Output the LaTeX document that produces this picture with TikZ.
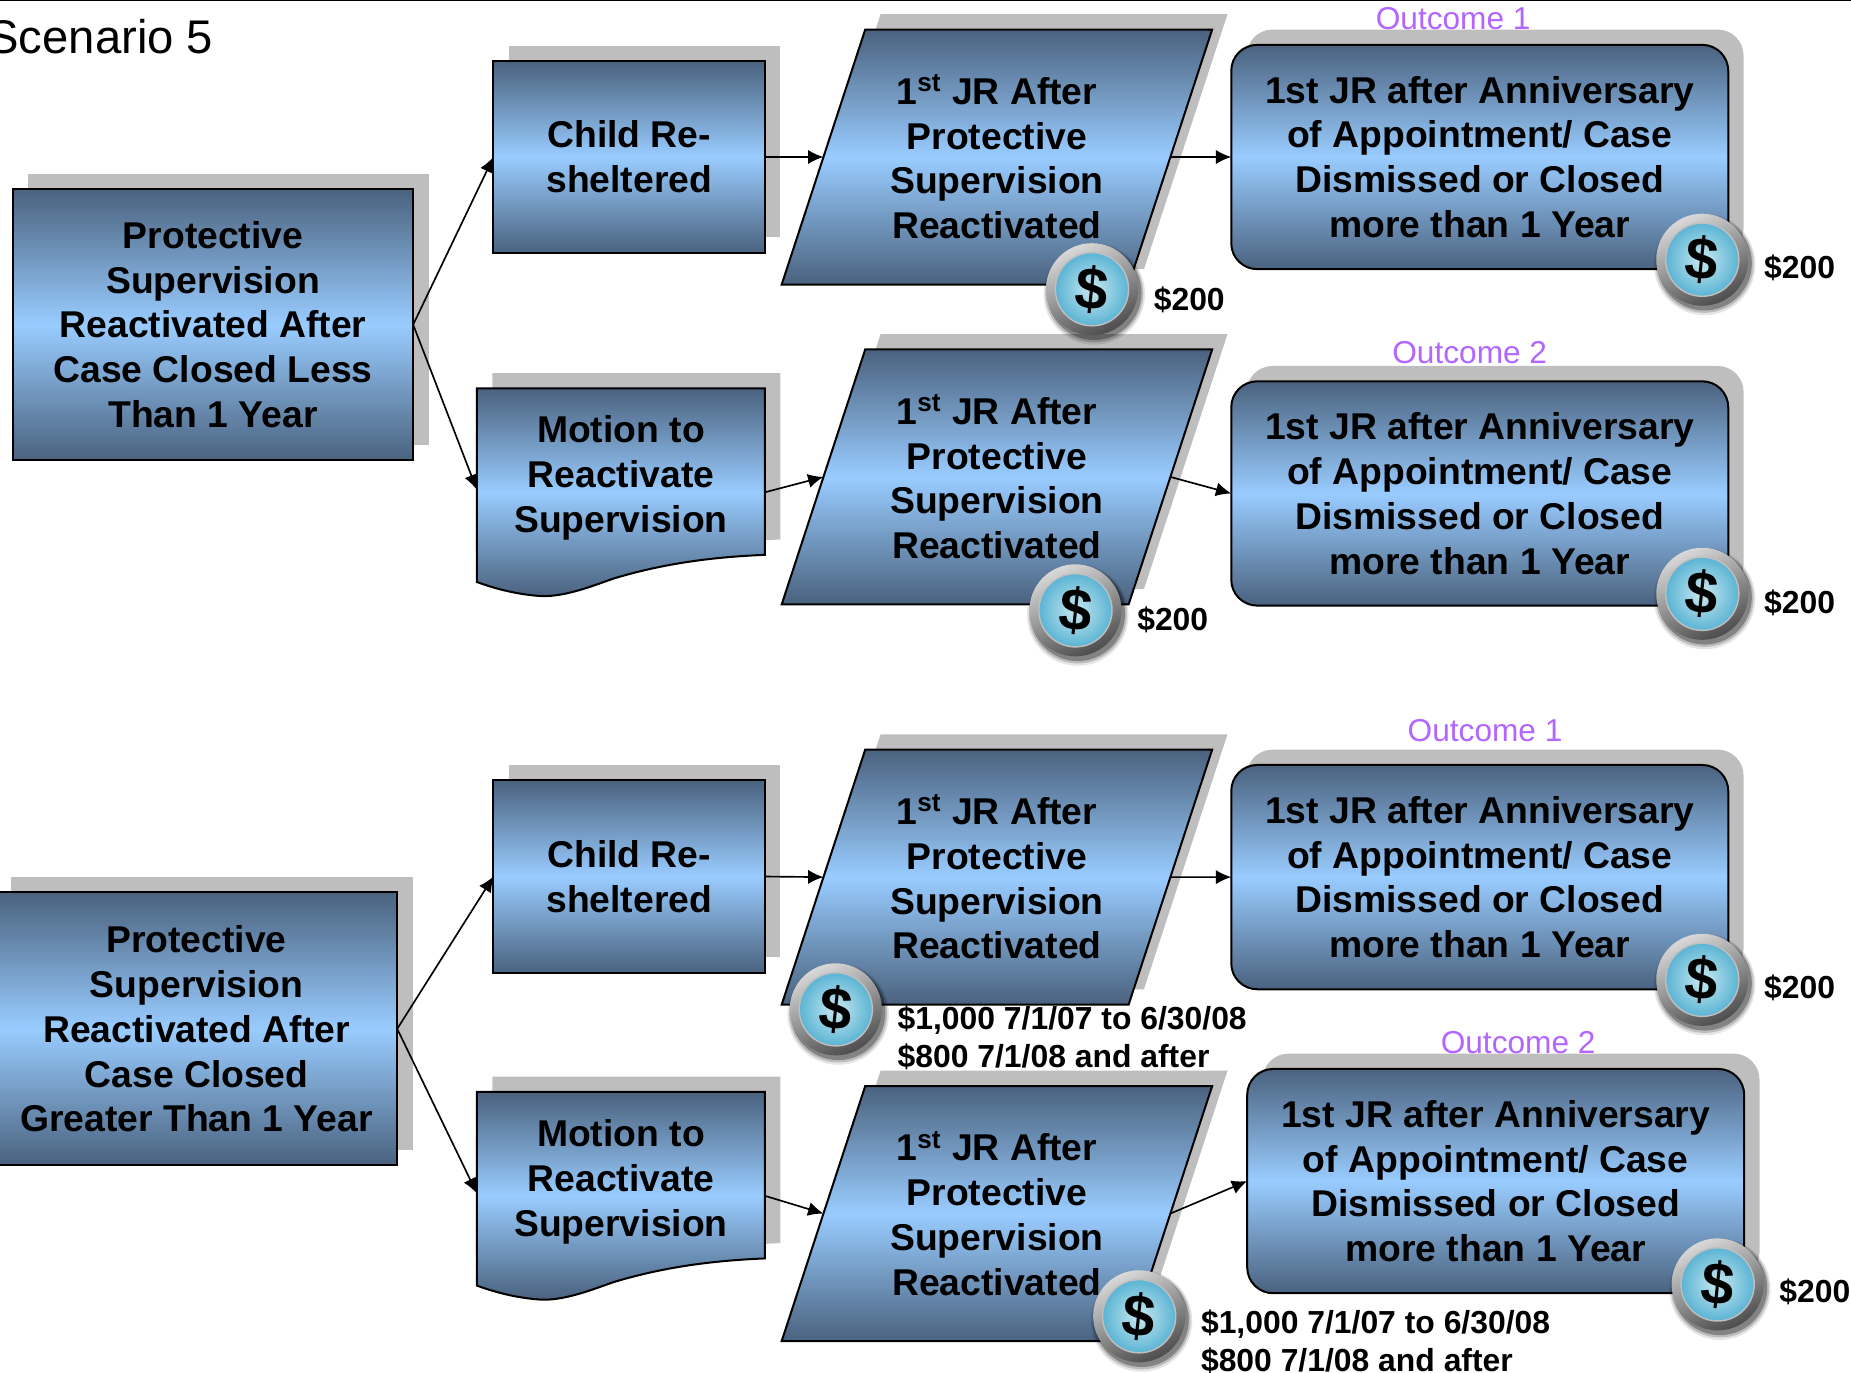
\documentclass[tikz,border=0pt]{standalone}
\usepackage{fontspec}
\setmainfont{Liberation Sans}
\usetikzlibrary{shapes.geometric}
\usetikzlibrary{shadows}
\usetikzlibrary{arrows.meta}
\definecolor{boxdark}{HTML}{4A627E}
\definecolor{boxlight}{HTML}{99CCFF}
\definecolor{boxshadow}{HTML}{BEBEBE}
\definecolor{outcome}{HTML}{B266FF}
\definecolor{coinface}{HTML}{5BB4D4}
\definecolor{coinglow}{HTML}{C9E9F0}
\tikzset{
  boxfill/.style={draw=black, line width=0.85pt, top color=boxdark, bottom color=boxdark, middle color=boxlight,
    general shadow={shadow xshift=6.5pt, shadow yshift=6.5pt, fill=boxshadow, draw=none}},
  boxtext/.style={font=\fontsize{15.8}{19}\selectfont\bfseries, align=center, inner sep=0pt, outer sep=0pt},
  boxrect/.style={boxfill, boxtext, rectangle, execute at begin node={\rule{0pt}{14pt}}},
  boxpara/.style={boxfill, boxtext, trapezium, trapezium left angle=67.6, trapezium right angle=112.4,
    trapezium stretches=true, minimum width=182.5pt, minimum height=108pt},
  boxround/.style={boxfill, boxtext, rectangle, execute at begin node={\rule{0pt}{14pt}}, rounded corners=11pt, minimum width=210.5pt, minimum height=95pt},
  plaintext/.style={font=\fontsize{15.8}{19}\selectfont\bfseries, align=center, inner sep=0pt},
  money/.style={font=\fontsize{13.5}{16}\selectfont\bfseries, align=left, anchor=west, inner sep=0pt},
  outcometext/.style={font=\fontsize{13.4}{16}\selectfont, text=outcome, inner sep=0pt},
  link/.style={->, >={Latex[length=6.5pt,width=6pt]}, line width=0.7pt},
  coin/.pic={
    \fill[black,opacity=0.10] (2,4) circle (43);
    \fill[black,opacity=0.18] (2,3.5) circle (41.5);
    \fill[black,opacity=0.30] (2,3) circle (40);
    \shade[top color=black!15, bottom color=black!70, shading angle=25] (0,0) circle (39);
    \shade[inner color=coinglow, outer color=coinface] (0,0) circle (31);
    \draw[white!75!black, line width=0.6pt] (0,0) circle (31);
    \node[font=\fontsize{25}{25}\selectfont\bfseries, inner sep=0pt, rotate=-6] (-dollar) at (0,0) {\$};
  }
}
\begin{document}
\begin{tikzpicture}[x=0.5pt, y=-0.5pt]
  \useasboundingbox (0,0) rectangle (1568,1163);

  \draw[line width=0.7pt] (0,0.5) -- (1568,0.5);
  \node[font=\fontsize{20}{24}\selectfont, anchor=west, inner sep=0pt] (title) at (-11,31) {Scenario 5};

  % Top scenario
  \node[boxrect, minimum width=169.5pt, minimum height=115pt] (protect1) at (180.5,275) {Protective\\Supervision\\Reactivated After\\Case Closed Less\\Than 1 Year};

    % Row 1
    \node[boxrect, minimum width=115pt, minimum height=81pt] (child1) at (533,133) {Child Re-\\sheltered};
    \node[boxpara] (para1) at (844.5,133) {1\textsuperscript{st} JR After\\Protective\\Supervision\\Reactivated};
    \node[boxround] (round1) at (1253.5,133) {1st JR after Anniversary\\of Appointment/ Case\\Dismissed or Closed\\more than 1 Year};
    \node[outcometext] (outcome1) at (1231,16) {Outcome 1};

    % Row 2
    \draw[boxfill] (404,329) -- (648,329) -- (648,470) coordinate (motion1b) .. controls (600,472) and (560,478) .. (520,490) .. controls (500,497) and (480,505) .. (460,505) .. controls (440,504) and (420,499) .. (404,493) -- cycle;
    \node[plaintext] (motion1) at (526,405) {Motion to\\Reactivate\\Supervision};
    \coordinate (motion1in) at (404,415);
    \coordinate (motion1out) at (648,417);
    \node[boxpara] (para2) at (844.5,404) {1\textsuperscript{st} JR After\\Protective\\Supervision\\Reactivated};
    \node[boxround] (round2) at (1253.5,418) {1st JR after Anniversary\\of Appointment/ Case\\Dismissed or Closed\\more than 1 Year};
    \node[outcometext] (outcome2) at (1245,299) {Outcome 2};

  % Bottom scenario
  \node[boxrect, minimum width=170pt, minimum height=115.5pt] (protect2) at (166.5,871.5) {Protective\\Supervision\\Reactivated After\\Case Closed\\Greater Than 1 Year};

    % Row 3
    \node[boxrect, minimum width=115pt, minimum height=81.5pt] (child2) at (533,742.5) {Child Re-\\sheltered};
    \node[boxpara] (para3) at (844.5,743) {1\textsuperscript{st} JR After\\Protective\\Supervision\\Reactivated};
    \node[boxround] (round3) at (1253.5,743) {1st JR after Anniversary\\of Appointment/ Case\\Dismissed or Closed\\more than 1 Year};
    \node[outcometext] (outcome3) at (1258,619) {Outcome 1};

    % Row 4
    \draw[boxfill] (404,925) -- (648,925) -- (648,1066) coordinate (motion2b) .. controls (600,1068) and (560,1074) .. (520,1086) .. controls (500,1093) and (480,1101) .. (460,1101) .. controls (440,1100) and (420,1095) .. (404,1089) -- cycle;
    \node[plaintext] (motion2) at (526,1001) {Motion to\\Reactivate\\Supervision};
    \coordinate (motion2in) at (404,1011);
    \coordinate (motion2out) at (648,1013);
    \node[boxpara] (para4) at (844.5,1028) {1\textsuperscript{st} JR After\\Protective\\Supervision\\Reactivated};
    \node[boxround] (round4) at (1267,1000.5) {1st JR after Anniversary\\of Appointment/ Case\\Dismissed or Closed\\more than 1 Year};
    \node[outcometext] (outcome4) at (1286,883) {Outcome 2};

  % Connectors
  \draw[link] (protect1.east) -- (child1.west);
  \draw[link] (protect1.east) -- (motion1in);
  \draw[link] (child1.east) -- (para1.west);
  \draw[link] (para1.east) -- (round1.west);
  \draw[link] (motion1out) -- (para2.west);
  \draw[link] (para2.east) -- (round2.west);
  \draw[link] (protect2.east) -- (child2.west);
  \draw[link] (protect2.east) -- (motion2in);
  \draw[link] (child2.east) -- (para3.west);
  \draw[link] (para3.east) -- (round3.west);
  \draw[link] (motion2out) -- (para4.west);
  \draw[link] (para4.east) -- (round4.west);

  % Coins
  \pic (coin1) at (925,245) {coin};
  \pic (coin2) at (1442,220) {coin};
  \pic (coin3) at (911,517) {coin};
  \pic (coin4) at (1442,503) {coin};
  \pic (coin5) at (708,855) {coin};
  \pic (coin6) at (1442,830) {coin};
  \pic (coin7) at (965,1115) {coin};
  \pic (coin8) at (1455,1088) {coin};

  % Amounts
  \node[money] (amount1) at (977,254) {\$200};
  \node[money] (amount2) at (1494,227) {\$200};
  \node[money] (amount3) at (963,525) {\$200};
  \node[money] (amount4) at (1494,511) {\$200};
  \node[money] (amount5) at (760,879) {\$1,000 7/1/07 to 6/30/08\\\$800 7/1/08 and after};
  \node[money] (amount6) at (1494,837) {\$200};
  \node[money] (amount7) at (1017,1137) {\$1,000 7/1/07 to 6/30/08\\\$800 7/1/08 and after};
  \node[money] (amount8) at (1507,1094) {\$200};
\end{tikzpicture}
\end{document}
